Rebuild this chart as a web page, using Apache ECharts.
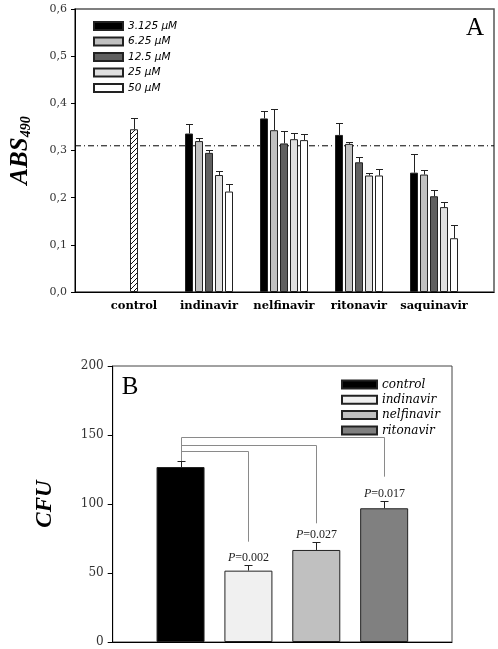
<!DOCTYPE html>
<html><head><meta charset="utf-8">
<script src="https://cdn.jsdelivr.net/npm/echarts@6/dist/echarts.min.js"></script>
<style>html,body{margin:0;padding:0;background:#fff}#c{width:498px;height:649px}</style>
</head><body><div id="c"></div>
<script>
// ---------- Panel A data ----------
const catsA = ['control','indinavir','nelfinavir','ritonavir','saquinavir'];
const concNames = ['3.125 \u03bcM','6.25 \u03bcM','12.5 \u03bcM','25 \u03bcM','50 \u03bcM'];
const controlA = [0.345, null, null, null, null];
const controlAErr = [0.024, null, null, null, null];
const absC1 = [null, 0.336, 0.368, 0.333, 0.253];
const absC2 = [null, 0.320, 0.343, 0.314, 0.249];
const absC3 = [null, 0.295, 0.315, 0.275, 0.203];
const absC4 = [null, 0.248, 0.324, 0.247, 0.180];
const absC5 = [null, 0.213, 0.322, 0.247, 0.114];
const errC1 = [null, 0.021, 0.016, 0.025, 0.040];
const errC2 = [null, 0.007, 0.045, 0.004, 0.010];
const errC3 = [null, 0.006, 0.026, 0.012, 0.013];
const errC4 = [null, 0.009, 0.013, 0.006, 0.010];
const errC5 = [null, 0.016, 0.013, 0.014, 0.029];
const thresholdA = 0.31;
const yTicksA = [0, 0.1, 0.2, 0.3, 0.4, 0.5, 0.6];

// ---------- Panel B data ----------
const catsB = ['control','indinavir','nelfinavir','ritonavir'];
const cfuB = [126.8, 51.7, 66.7, 96.9];
const cfuErrB = [4.6, 4.0, 5.6, 5.5];
const pValuesB = [null, '0.002', '0.027', '0.017'];
const bracketLevelB = [null, 138.2, 143.0, 148.3];
const bracketEndB = [null, 72.7, 86.0, 119.8];
const yTicksB = [0, 50, 100, 150, 200];

// ---------- styles ----------
const colorsA = ['#000000','#c0c0c0','#606060','#e0e0e0','#ffffff'];
const colorsB = ['#000000','#f0f0f0','#c0c0c0','#808080'];
const BAR_W_A = 8, BAR_GAP_A = 2;
const SERIF = "'DejaVu Serif', serif";
const TSERIF = "'Liberation Serif', serif";

function hatch(){
  const c = document.createElement('canvas'); c.width = 5; c.height = 5;
  const g = c.getContext('2d');
  g.fillStyle = '#fff'; g.fillRect(0,0,5,5);
  g.strokeStyle = '#111'; g.lineWidth = 1;
  g.beginPath();
  g.moveTo(0,5); g.lineTo(5,0);
  g.moveTo(-1,1); g.lineTo(1,-1);
  g.moveTo(4,6); g.lineTo(6,4);
  g.stroke();
  return c;
}

const absA = [absC1, absC2, absC3, absC4, absC5];
const errA = [errC1, errC2, errC3, errC4, errC5];

const errDataA = [];
absA.forEach((arr, s) => arr.forEach((v, c) => { if (v != null) errDataA.push([c, s, v, errA[s][c]]); }));
controlA.forEach((v, c) => { if (v != null) errDataA.push([c, -1, v, controlAErr[c]]); });

const chart = echarts.init(document.getElementById('c'), null, {renderer: 'canvas'});

const series = [];
series.push({
  type: 'line', xAxisIndex: 0, yAxisIndex: 0, silent: true, symbol: 'none',
  data: [[0, thresholdA], [1, thresholdA]],
  lineStyle: {color: '#000', width: 1, type: [6, 3, 1, 3]}, z: 1
});
absA.forEach((arr, s) => {
  series.push({
    type: 'bar', name: concNames[s], xAxisIndex: 1, yAxisIndex: 1,
    data: arr, barWidth: BAR_W_A, barGap: (BAR_GAP_A / BAR_W_A * 100) + '%',
    itemStyle: {color: colorsA[s], borderColor: '#222', borderWidth: 1}, z: 2
  });
});
series.push({
  type: 'bar', name: 'control (A)', xAxisIndex: 2, yAxisIndex: 1, data: controlA, barWidth: BAR_W_A,
  itemStyle: {color: {image: hatch(), repeat: 'repeat'}, borderColor: '#222', borderWidth: 1}, z: 2
});
series.push({
  type: 'custom', xAxisIndex: 1, yAxisIndex: 1, data: errDataA, silent: true, z: 3,
  encode: {x: 0, y: 2},
  renderItem(params, api) {
    const cat = api.value(0), slot = api.value(1), m = api.value(2), e = api.value(3);
    const off = slot < 0 ? 0 : (slot - 2) * (BAR_W_A + BAR_GAP_A);
    const p0 = api.coord([cat, m]), p1 = api.coord([cat, m + e]);
    const x = Math.round(p0[0] + off) + 0.5;
    const yt = Math.round(p1[1]) + 0.5;
    return {type: 'group', children: [
      {type: 'line', shape: {x1: x, y1: p0[1], x2: x, y2: yt}, style: {stroke: '#222', lineWidth: 1}},
      {type: 'line', shape: {x1: x - 3.5, y1: yt, x2: x + 3.5, y2: yt}, style: {stroke: '#222', lineWidth: 1}}
    ]};
  }
});

catsB.forEach((name, i) => {
  series.push({
    type: 'bar', name: name, xAxisIndex: 4, yAxisIndex: 3,
    data: cfuB.map((v, j) => j === i ? v : null),
    barWidth: 48, barGap: '-100%',
    itemStyle: {color: colorsB[i], borderColor: '#222', borderWidth: 1}, z: 2
  });
});
series.push({
  type: 'custom', xAxisIndex: 4, yAxisIndex: 3, silent: true, z: 3,
  data: cfuB.map((v, i) => [i, v, cfuErrB[i]]),
  encode: {x: 0, y: 1},
  renderItem(params, api) {
    const i = api.value(0), m = api.value(1), e = api.value(2);
    const p0 = api.coord([i, m]), p1 = api.coord([i, m + e]);
    const x = Math.round(p0[0]) + 0.5, yt = Math.round(p1[1]) + 0.5;
    const ch = [
      {type: 'line', shape: {x1: x, y1: p0[1], x2: x, y2: yt}, style: {stroke: '#222', lineWidth: 1}},
      {type: 'line', shape: {x1: x - 4, y1: yt, x2: x + 4, y2: yt}, style: {stroke: '#222', lineWidth: 1}}
    ];
    if (pValuesB[i]) {
      ch.push({type: 'text', style: {
        text: '{i|P}{n|=' + pValuesB[i] + '}', x: x, y: yt - 2, align: 'center', verticalAlign: 'bottom',
        rich: {i: {fontFamily: TSERIF, fontSize: 12, fontStyle: 'italic', fill: '#222'},
               n: {fontFamily: TSERIF, fontSize: 12, fill: '#222'}}
      }});
    }
    return {type: 'group', children: ch};
  }
});
series.push({
  type: 'custom', xAxisIndex: 4, yAxisIndex: 3, silent: true, z: 1,
  data: bracketLevelB.map((l, i) => [i, l, bracketEndB[i]]).filter(d => d[1] != null),
  encode: {x: 0, y: 1},
  renderItem(params, api) {
    const i = api.value(0), lvl = api.value(1), end = api.value(2);
    const c0 = api.coord([0, cfuB[0] + cfuErrB[0]]);
    const a = api.coord([0, lvl]), b = api.coord([i, lvl]), d = api.coord([i, end]);
    const cx = Math.round(c0[0]) + 0.5, tx = Math.round(b[0]) + 0.5, ly = Math.round(a[1]) + 0.5;
    return {type: 'polyline', shape: {points: [[cx, c0[1]], [cx, ly], [tx, ly], [tx, d[1]]]},
      style: {stroke: '#8a8a8a', lineWidth: 1, fill: null}};
  }
});

const option = {
  animation: false,
  backgroundColor: '#fff',
  grid: [
    {left: 74, top: 9, width: 420, height: 283, show: true, borderColor: '#555', borderWidth: 1.5, backgroundColor: 'transparent'},
    {left: 96.5, top: 9, width: 375, height: 283},
    {left: 112.7, top: 366, width: 339.3, height: 276, show: true, borderColor: '#444', borderWidth: 1, backgroundColor: 'transparent'},
    {left: 146.6, top: 366, width: 271.5, height: 276}
  ],
  xAxis: [
    {gridIndex: 0, type: 'value', min: 0, max: 1, axisLine: {show: true, lineStyle: {color: '#000', width: 1}}, axisTick: {show: false}, axisLabel: {show: false}, splitLine: {show: false}},
    {gridIndex: 1, type: 'category', data: catsA, axisLine: {show: false}, axisTick: {show: false},
      axisLabel: {interval: 0, margin: 8, fontFamily: SERIF, fontWeight: 'bold', fontSize: 11.5, color: '#000'}},
    {gridIndex: 1, type: 'category', data: catsA, show: false},
    {gridIndex: 2, type: 'value', min: 0, max: 1, axisLine: {show: true, lineStyle: {color: '#000', width: 1}}, axisTick: {show: false}, axisLabel: {show: false}, splitLine: {show: false}},
    {gridIndex: 3, type: 'category', data: catsB, show: false}
  ],
  yAxis: [
    {gridIndex: 0, type: 'value', min: yTicksA[0], max: yTicksA[yTicksA.length - 1], interval: 0.1,
      axisLine: {show: true, lineStyle: {color: '#000'}}, axisTick: {show: true, length: 4, lineStyle: {color: '#000'}},
      splitLine: {show: false},
      axisLabel: {margin: 8, fontFamily: SERIF, fontSize: 11, color: '#333', formatter: v => v.toFixed(1).replace('.', ',')},
      name: '{a|ABS}{s|490}', nameLocation: 'middle', nameGap: 42, nameRotate: 90,
      nameTextStyle: {rich: {
        a: {fontFamily: TSERIF, fontSize: 25, fontWeight: 'bold', fontStyle: 'italic', color: '#000'},
        s: {fontFamily: TSERIF, fontSize: 14, fontWeight: 'bold', fontStyle: 'italic', color: '#000', verticalAlign: 'bottom', padding: [6, 0, 0, 0]}
      }}},
    {gridIndex: 1, type: 'value', min: yTicksA[0], max: yTicksA[yTicksA.length - 1], show: false},
    {gridIndex: 2, type: 'value', min: yTicksB[0], max: yTicksB[yTicksB.length - 1], interval: 50,
      axisLine: {show: true, lineStyle: {color: '#000'}}, axisTick: {show: true, length: 5, lineStyle: {color: '#000'}},
      splitLine: {show: false},
      axisLabel: {margin: 9, fontFamily: SERIF, fontSize: 12, color: '#333'},
      name: 'CFU', nameLocation: 'middle', nameGap: 56, nameRotate: 90,
      nameTextStyle: {fontFamily: TSERIF, fontSize: 23, fontWeight: 'bold', fontStyle: 'italic', color: '#000'}},
    {gridIndex: 3, type: 'value', min: yTicksB[0], max: yTicksB[yTicksB.length - 1], show: false}
  ],
  legend: [
    {data: concNames, orient: 'vertical', left: 88, top: 15, itemWidth: 29, itemHeight: 8, itemGap: 3.5,
      icon: 'rect', selectedMode: false,
      textStyle: {fontFamily: "'DejaVu Sans', sans-serif", fontStyle: 'italic', fontSize: 10.5, lineHeight: 12, color: '#000'}},
    {data: catsB, orient: 'vertical', left: 336, top: 373, itemWidth: 35, itemHeight: 8, itemGap: 2.3,
      icon: 'rect', selectedMode: false,
      textStyle: {fontFamily: SERIF, fontStyle: 'italic', fontSize: 12, lineHeight: 13, color: '#000'}}
  ],
  graphic: [
    {type: 'text', x: 475, y: 28, style: {text: 'A', font: "25px 'Liberation Serif', serif", fill: '#000', align: 'center', verticalAlign: 'middle'}},
    {type: 'text', x: 130, y: 387, style: {text: 'B', font: "25px 'Liberation Serif', serif", fill: '#000', align: 'center', verticalAlign: 'middle'}}
  ],
  series: series
};
chart.setOption(option);
</script>
</body></html>
